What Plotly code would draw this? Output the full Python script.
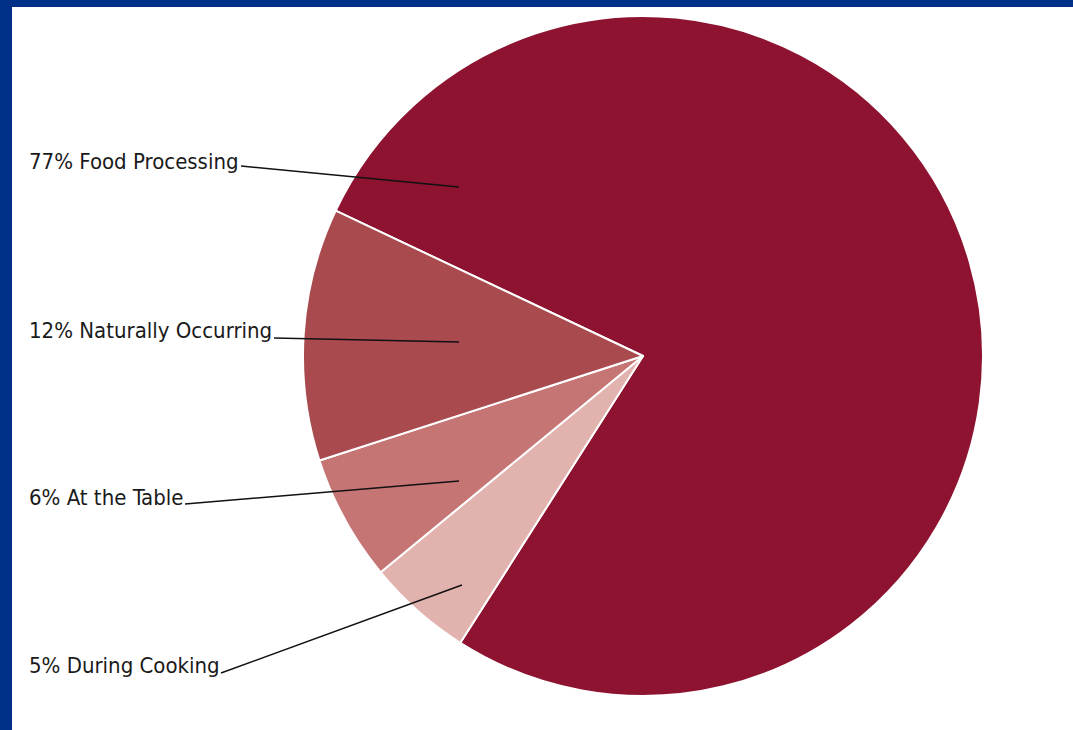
import plotly.graph_objects as go

# ---- data ----
categories = ["Food Processing", "During Cooking", "At the Table", "Naturally Occurring"]
values = [77, 5, 6, 12]
label_order = ["Food Processing", "Naturally Occurring", "At the Table", "During Cooking"]

# ---- styles ----
colors = {
    "Food Processing": "#8E1330",
    "During Cooking": "#E2B2AE",
    "At the Table": "#C57573",
    "Naturally Occurring": "#A84A4E",
}
W, H = 1073, 730
BLUE = "#003087"
FONT = "Liberation Sans Narrow, DejaVu Sans Condensed, Arial Narrow, sans-serif"

# pie geometry (pixels)
CX, CY, R = 643, 356, 340

def px(x):
    return x / W

def py(y):
    return 1 - y / H

fig = go.Figure()
fig.add_trace(go.Pie(
    labels=categories,
    values=values,
    sort=False,
    direction="clockwise",
    rotation=-64.7,
    marker=dict(colors=[colors[c] for c in categories], line=dict(color="white", width=2)),
    textinfo="none",
    hoverinfo="label+percent",
    showlegend=False,
    domain=dict(x=[px(CX - R), px(CX + R)], y=[py(CY + R), py(CY - R)]),
))

# label layout (pixels): text anchor (left, middle) and leader line start/end
label_layout = {
    "Food Processing": dict(text_xy=(27, 162), line=((241, 166), (459, 187))),
    "Naturally Occurring": dict(text_xy=(27, 330), line=((274, 338), (459, 342))),
    "At the Table": dict(text_xy=(27, 497), line=((185, 504), (459, 481))),
    "During Cooking": dict(text_xy=(27, 665), line=((221, 673), (462, 585))),
}

val_map = dict(zip(categories, values))
annotations = []
shapes = [
    dict(type="rect", xref="paper", yref="paper", x0=0, x1=px(12), y0=0, y1=1,
         fillcolor=BLUE, line=dict(width=0), layer="above"),
    dict(type="rect", xref="paper", yref="paper", x0=0, x1=1, y0=py(7), y1=1,
         fillcolor=BLUE, line=dict(width=0), layer="above"),
]
for name in label_order:
    lay = label_layout[name]
    tx, ty = lay["text_xy"]
    annotations.append(dict(
        x=px(tx), y=py(ty), xref="paper", yref="paper",
        xanchor="left", yanchor="middle", showarrow=False,
        text=f"{val_map[name]}% {name}",
        font=dict(family=FONT, size=22, color="#1a1a1a"),
    ))
    (x0, y0), (x1, y1) = lay["line"]
    shapes.append(dict(type="line", xref="paper", yref="paper",
                       x0=px(x0), y0=py(y0), x1=px(x1), y1=py(y1),
                       line=dict(color="#111111", width=1.5), layer="above"))

fig.update_layout(
    width=W, height=H,
    margin=dict(l=0, r=0, t=0, b=0),
    paper_bgcolor="white",
    plot_bgcolor="white",
    annotations=annotations,
    shapes=shapes,
)

fig.write_html("out.html")
